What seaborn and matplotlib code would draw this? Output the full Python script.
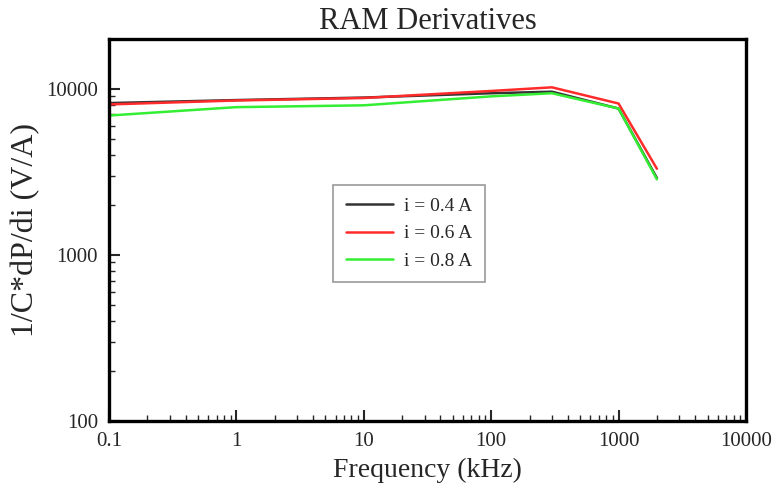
import numpy as np
import pandas as pd
import matplotlib
matplotlib.use("Agg")
import matplotlib.pyplot as plt
import matplotlib.ticker as mticker
import seaborn as sns

freq = [0.1, 1, 10, 100, 300, 1000, 2000]
i04 = [8200, 8550, 8850, 9400, 9600, 7600, 2900]
i06 = [8050, 8500, 8800, 9700, 10200, 8150, 3300]
i08 = [6900, 7750, 7950, 9000, 9400, 7600, 2850]
labels = ["i = 0.4 A", "i = 0.6 A", "i = 0.8 A"]
colors = ["#333333", "#ff2a2a", "#33ee33"]

df = pd.DataFrame({
    "freq": freq * 3,
    "val": i04 + i06 + i08,
    "series": [labels[0]] * len(freq) + [labels[1]] * len(freq) + [labels[2]] * len(freq),
})

sns.set_style("white")
plt.rcParams["font.family"] = ["Liberation Serif", "DejaVu Serif"]

fig = plt.figure(figsize=(7.73, 4.97), dpi=100)
ax = fig.add_axes([0.141, 0.153, 0.824, 0.769])
sns.lineplot(data=df, x="freq", y="val", hue="series", palette=colors,
             linewidth=1.8, ax=ax, sort=False, estimator=None)
ax.set_xscale("log")
ax.set_yscale("log")
ax.set_xlim(0.1, 10000)
ax.set_ylim(100, 20000)

fmt = mticker.FuncFormatter(lambda v, p: ("%g" % v))
ax.xaxis.set_major_formatter(fmt)
ax.yaxis.set_major_formatter(fmt)
ax.xaxis.set_major_locator(mticker.LogLocator(base=10, numticks=10))
ax.yaxis.set_major_locator(mticker.LogLocator(base=10, numticks=10))
ax.xaxis.set_minor_locator(mticker.LogLocator(base=10, subs=np.arange(2, 10), numticks=20))
ax.yaxis.set_minor_locator(mticker.LogLocator(base=10, subs=np.arange(2, 10), numticks=20))
ax.xaxis.set_minor_formatter(mticker.NullFormatter())
ax.yaxis.set_minor_formatter(mticker.NullFormatter())
ax.tick_params(which="major", direction="in", length=8, width=1.5, labelsize=15,
               bottom=True, left=True, top=False, right=False, pad=8)
ax.tick_params(which="minor", direction="in", length=4, width=1.0,
               bottom=True, left=True, top=False, right=False)
for s in ax.spines.values():
    s.set_linewidth(2.4)
    s.set_color("black")

ax.set_title("RAM Derivatives", fontsize=22, pad=7)
ax.set_xlabel("Frequency (kHz)", fontsize=20, labelpad=5)
ax.set_ylabel("1/C*dP/di (V/A)", fontsize=23, labelpad=4)

ax.legend(loc="center left", bbox_to_anchor=(0.352, 0.49), fontsize=14, frameon=True,
          fancybox=False, edgecolor="#999999", framealpha=1, handlelength=2.4,
          handletextpad=0.6, borderpad=0.65, labelspacing=0.5, borderaxespad=0)
ax.get_legend().get_frame().set_linewidth(1.2)

fig.savefig("out.png", dpi=100)
